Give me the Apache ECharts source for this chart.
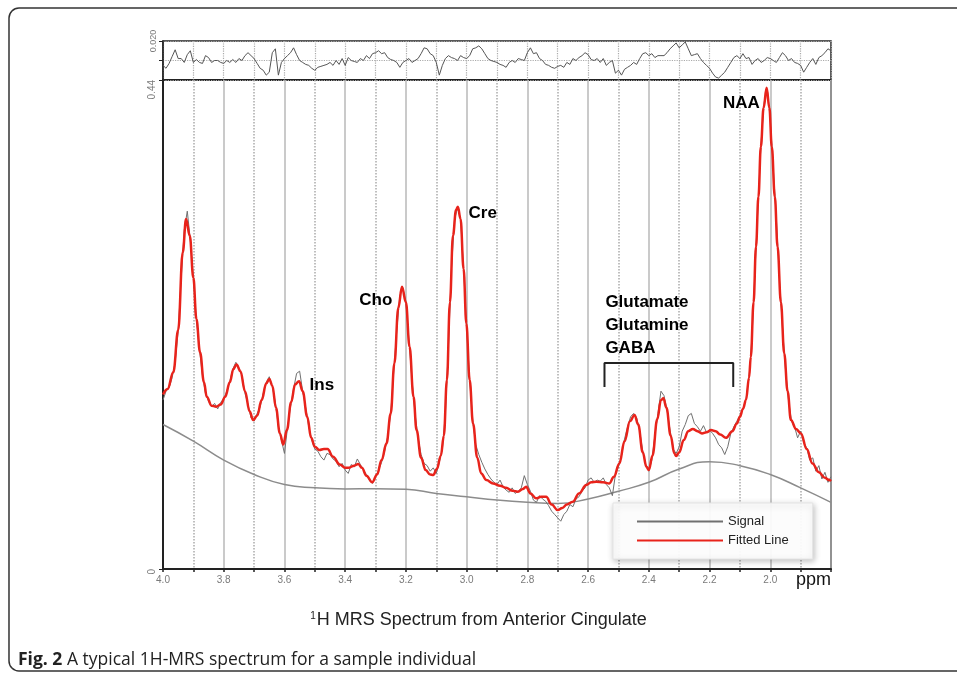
<!DOCTYPE html>
<html>
<head>
<meta charset="utf-8">
<script src="https://cdn.jsdelivr.net/npm/echarts/dist/echarts.min.js"></script>
<style>
html,body{margin:0;padding:0;background:#fff;}
#c{width:957px;height:676px;}
</style>
</head>
<body>
<div id="c"></div>
<script>
// ---- data ----
const ppmGrid = [4.00,3.99,3.98,3.97,3.96,3.95,3.94,3.93,3.92,3.91,
3.90,3.89,3.88,3.87,3.86,3.85,3.84,3.83,3.82,3.81,
3.80,3.79,3.78,3.77,3.76,3.75,3.74,3.73,3.72,3.71,
3.70,3.69,3.68,3.67,3.66,3.65,3.64,3.63,3.62,3.61,
3.60,3.59,3.58,3.57,3.56,3.55,3.54,3.53,3.52,3.51,
3.50,3.49,3.48,3.47,3.46,3.45,3.44,3.43,3.42,3.41,
3.40,3.39,3.38,3.37,3.36,3.35,3.34,3.33,3.32,3.31,
3.30,3.29,3.28,3.27,3.26,3.25,3.24,3.23,3.22,3.21,
3.20,3.19,3.18,3.17,3.16,3.15,3.14,3.13,3.12,3.11,
3.10,3.09,3.08,3.07,3.06,3.05,3.04,3.03,3.02,3.01,
3.00,2.99,2.98,2.97,2.96,2.95,2.94,2.93,2.92,2.91,
2.90,2.89,2.88,2.87,2.86,2.85,2.84,2.83,2.82,2.81,
2.80,2.79,2.78,2.77,2.76,2.75,2.74,2.73,2.72,2.71,
2.70,2.69,2.68,2.67,2.66,2.65,2.64,2.63,2.62,2.61,
2.60,2.59,2.58,2.57,2.56,2.55,2.54,2.53,2.52,2.51,
2.50,2.49,2.48,2.47,2.46,2.45,2.44,2.43,2.42,2.41,
2.40,2.39,2.38,2.37,2.36,2.35,2.34,2.33,2.32,2.31,
2.30,2.29,2.28,2.27,2.26,2.25,2.24,2.23,2.22,2.21,
2.20,2.19,2.18,2.17,2.16,2.15,2.14,2.13,2.12,2.11,
2.10,2.09,2.08,2.07,2.06,2.05,2.04,2.03,2.02,2.01,
2.00,1.99,1.98,1.97,1.96,1.95,1.94,1.93,1.92,1.91,
1.90,1.89,1.88,1.87,1.86,1.85,1.84,1.83,1.82,1.81,
1.80];

const signal = [0.152,0.160,0.163,0.172,0.186,0.214,0.262,0.305,0.322,0.296,
0.262,0.224,0.198,0.174,0.158,0.151,0.146,0.149,0.144,0.150,
0.153,0.160,0.169,0.180,0.186,0.181,0.174,0.158,0.148,0.136,
0.133,0.140,0.146,0.158,0.168,0.173,0.164,0.150,0.128,0.116,
0.104,0.127,0.146,0.162,0.176,0.178,0.160,0.145,0.128,0.116,
0.108,0.106,0.101,0.098,0.104,0.103,0.099,0.097,0.092,0.095,
0.089,0.086,0.094,0.092,0.099,0.094,0.089,0.085,0.080,0.077,
0.083,0.089,0.096,0.106,0.119,0.140,0.178,0.215,0.246,0.253,
0.240,0.206,0.170,0.140,0.118,0.103,0.095,0.093,0.088,0.091,
0.086,0.096,0.108,0.140,0.200,0.270,0.314,0.325,0.315,0.270,
0.216,0.170,0.134,0.112,0.103,0.096,0.090,0.085,0.081,0.078,
0.076,0.080,0.074,0.071,0.069,0.073,0.068,0.070,0.073,0.084,
0.076,0.070,0.062,0.060,0.066,0.063,0.061,0.057,0.052,0.049,
0.046,0.043,0.049,0.052,0.058,0.056,0.063,0.065,0.070,0.073,
0.080,0.082,0.078,0.080,0.079,0.082,0.076,0.073,0.066,0.085,
0.092,0.102,0.117,0.128,0.137,0.140,0.136,0.124,0.106,0.094,
0.088,0.098,0.120,0.140,0.160,0.156,0.143,0.125,0.108,0.104,
0.110,0.124,0.130,0.138,0.140,0.131,0.128,0.124,0.129,0.123,
0.125,0.122,0.118,0.112,0.109,0.103,0.110,0.122,0.128,0.133,
0.138,0.144,0.153,0.172,0.210,0.270,0.330,0.385,0.420,0.432,
0.405,0.360,0.315,0.262,0.218,0.180,0.152,0.133,0.128,0.118,
0.124,0.114,0.109,0.098,0.100,0.088,0.093,0.081,0.087,0.078,
0.083];

const residual = [-0.005,-0.008,-0.003,0.004,0.011,0.002,0.002,-0.002,0.006,0.010,
-0.002,0.001,-0.002,-0.003,0.005,0.003,-0.002,0,0,-0.002,
-0.003,0,-0.002,0.001,-0.002,0.002,0,0.005,0.008,0.005,
0.002,-0.003,-0.008,-0.010,-0.015,-0.012,0.008,0.012,-0.015,-0.002,
0.002,0.005,0.008,0.013,0.006,0,-0.002,-0.004,-0.005,-0.008,
-0.010,-0.007,-0.006,-0.005,-0.004,-0.002,-0.005,0,-0.004,0.002,
-0.005,0.003,0,-0.001,-0.002,0.002,0,0.005,0.002,0.007,
0.008,0.010,0.007,0.008,0.003,0.001,0,-0.002,-0.007,-0.002,
0,0.002,-0.002,0,0.002,0.007,0.013,0.012,0.007,0.005,
-0.002,-0.015,-0.005,0.002,0.005,0.003,0.002,0,0.005,0.003,
0.002,0.005,0.012,0.013,0.015,0.012,0.007,0.002,0,-0.001,
-0.002,-0.004,-0.005,-0.007,-0.002,0,-0.002,0.002,0.001,0,
0.008,0.013,0.007,0.008,0.002,0,-0.004,-0.005,-0.007,-0.008,
-0.006,-0.005,-0.007,-0.002,-0.004,0.002,0,0.003,0.005,0.008,
0.006,0.001,0,0.002,-0.002,0.002,-0.005,-0.002,0,-0.013,
-0.010,-0.015,-0.009,-0.007,-0.005,-0.002,-0.004,0.002,0.007,0.008,
0.005,0.007,0.003,0.005,0.005,0.005,0.008,0.012,0.015,0.018,
0.013,0.016,0.019,0.012,0.005,0.006,0.007,0.002,-0.002,-0.005,
-0.008,-0.013,-0.017,-0.018,-0.015,-0.012,-0.007,-0.002,0.003,0.005,
0.002,0.007,0.002,0.003,-0.004,0,0.002,-0.002,0,0.003,
0.002,0,-0.002,0.003,0.008,0.005,0,0.002,-0.002,-0.003,
-0.005,-0.012,-0.007,-0.002,0.002,-0.004,0.003,0.005,0.008,0.012,
0.010];

const fitPpm = [4.000,3.985,3.966,3.950,3.935,3.924,3.912,3.900,3.890,3.878,
3.865,3.856,3.840,3.825,3.810,3.795,3.780,3.768,3.758,3.745,
3.730,3.715,3.703,3.690,3.675,3.660,3.650,3.640,3.628,3.615,
3.604,3.592,3.578,3.565,3.552,3.540,3.525,3.512,3.500,3.485,
3.470,3.458,3.440,3.418,3.400,3.390,3.370,3.357,3.345,3.330,
3.311,3.295,3.280,3.264,3.250,3.238,3.225,3.213,3.200,3.188,
3.175,3.165,3.150,3.135,3.120,3.110,3.098,3.085,3.075,3.065,
3.055,3.045,3.035,3.029,3.020,3.010,3.001,2.990,2.979,2.965,
2.952,2.935,2.913,2.890,2.870,2.850,2.831,2.815,2.804,2.790,
2.771,2.755,2.738,2.720,2.700,2.685,2.670,2.650,2.630,2.606,
2.590,2.573,2.550,2.530,2.515,2.497,2.480,2.462,2.447,2.435,
2.420,2.408,2.400,2.388,2.372,2.360,2.352,2.342,2.328,2.316,
2.310,2.300,2.285,2.270,2.255,2.240,2.225,2.210,2.195,2.180,
2.165,2.146,2.125,2.110,2.100,2.090,2.080,2.070,2.064,2.055,
2.047,2.039,2.031,2.022,2.012,2.003,1.995,1.985,1.976,1.965,
1.954,1.943,1.932,1.915,1.899,1.880,1.861,1.840,1.820,1.806,
1.800];
const fitVal = [0.157,0.162,0.177,0.215,0.285,0.315,0.300,0.262,0.225,0.195,
0.168,0.155,0.147,0.146,0.148,0.155,0.168,0.180,0.184,0.178,
0.160,0.142,0.134,0.138,0.152,0.167,0.171,0.165,0.145,0.122,
0.112,0.125,0.150,0.166,0.169,0.160,0.137,0.118,0.110,0.107,
0.108,0.108,0.101,0.094,0.091,0.091,0.093,0.0945,0.091,0.084,
0.078,0.085,0.098,0.113,0.140,0.185,0.235,0.254,0.240,0.200,
0.155,0.125,0.100,0.089,0.085,0.0846,0.090,0.102,0.120,0.170,
0.240,0.300,0.323,0.326,0.315,0.270,0.221,0.170,0.131,0.100,
0.086,0.080,0.077,0.075,0.073,0.0705,0.0696,0.072,0.074,0.068,
0.0636,0.065,0.065,0.058,0.053,0.055,0.058,0.0606,0.068,0.0756,
0.078,0.0786,0.078,0.077,0.083,0.095,0.115,0.133,0.1386,0.130,
0.105,0.092,0.089,0.102,0.135,0.152,0.1536,0.145,0.120,0.104,
0.1017,0.105,0.116,0.124,0.126,0.124,0.122,0.123,0.125,0.124,
0.121,0.118,0.124,0.131,0.137,0.144,0.152,0.172,0.191,0.240,
0.290,0.335,0.380,0.415,0.433,0.415,0.380,0.335,0.290,0.240,
0.194,0.160,0.134,0.126,0.122,0.108,0.095,0.087,0.082,0.080,
0.079];

const basePpm = [4.0,3.9,3.8,3.7,3.6,3.5,3.4,3.3,3.2,3.1,3.0,2.9,2.8,2.7,2.6,2.5,2.4,2.3,2.2,2.1,2.0,1.9,1.8];
const baseVal = [0.130,0.115,0.098,0.085,0.076,0.073,0.072,0.0722,0.0717,0.068,0.065,0.062,0.060,0.059,0.063,0.070,0.078,0.090,0.0966,0.093,0.085,0.073,0.060];

// annotation texts and their anchor (ppm, amplitude)
const annText = ['NAA','Cre','Cho','Ins'];
const annPpm  = [2.095,2.947,3.299,3.477];
const annVal  = [0.4194,0.3204,0.2421,0.1656];
const groupText = 'Glutamate\nGlutamine\nGABA';
const groupAnchor = [2.543,0.2196];
const bracketPpm = [2.546,2.546,2.122,2.122];
const bracketVal = [0.1638,0.1854,0.1854,0.1638];

// ---- chart ----
const zip = (a,b) => a.map((x,i)=>[x,b[i]]);
const FONT = "'Liberation Sans', Arial, sans-serif";
const CAPFONT = "'Open Sans', sans-serif";
const chart = echarts.init(document.getElementById('c'), null, {renderer:'canvas'});

const xCommon = {type:'value', min:1.8, max:4.0, interval:0.2, inverse:true};

const staticGraphics = [
  {type:'rect', shape:{x:9, y:8, width:1000, height:663, r:10}, style:{fill:'none', stroke:'#333', lineWidth:1.5}, silent:true, z:-1},
  {type:'text', right:126, top:571, style:{text:'ppm', fontSize:18, fill:'#111', fontFamily:FONT}},
  {type:'text', left:'center', top:611, style:{
    text:'{s|1}{m|H MRS Spectrum from Anterior Cingulate}', fill:'#222', fontFamily:FONT,
    rich:{s:{fontSize:10, verticalAlign:'top', fontFamily:FONT, fill:'#222', padding:[0,1,0,0]}, m:{fontSize:18, fontFamily:FONT, fill:'#222'}}
  }},
  {type:'text', left:18, top:651, style:{
    text:'{b|Fig. 2} A typical 1H-MRS spectrum for a sample individual', fontSize:17.5, fill:'#222',
    fontFamily:CAPFONT,
    rich:{b:{fontWeight:'bold', fontSize:17.5, fill:'#222', fontFamily:CAPFONT}}
  }}
];

chart.setOption({
  animation:false,
  backgroundColor:'#fff',
  textStyle:{fontFamily:FONT},
  grid:[
    {left:163, top:41, width:668, height:39, show:true, borderColor:'#222', borderWidth:1.5, backgroundColor:'transparent'},
    {left:163, top:80, width:668, height:489, show:true, borderColor:'#222', borderWidth:2, backgroundColor:'transparent'}
  ],
  xAxis:[
    Object.assign({}, xCommon, {gridIndex:0,
      axisLine:{show:false}, axisTick:{show:false}, axisLabel:{show:false},
      splitLine:{show:true, lineStyle:{color:'#aaa', type:'dotted', width:1.2}},
      minorTick:{show:false, splitNumber:2},
      minorSplitLine:{show:true, lineStyle:{color:'#aaa', type:'dotted', width:1.2}}
    }),
    Object.assign({}, xCommon, {gridIndex:1,
      axisLine:{show:true, lineStyle:{color:'#222', width:2}},
      axisTick:{show:true, length:3, lineStyle:{color:'#222', width:1.5}},
      minorTick:{show:true, splitNumber:2, length:3, lineStyle:{color:'#222', width:1.5}},
      axisLabel:{color:'#7a7a7a', fontSize:10, margin:6, fontFamily:FONT,
        formatter:v => Math.abs(v-1.8)<1e-6 ? '' : v.toFixed(1)},
      splitLine:{show:true, lineStyle:{color:'#b9b9b9', width:1.5}},
      minorSplitLine:{show:true, lineStyle:{color:'#aaa', type:'dotted', width:1.5}}
    })
  ],
  yAxis:[
    {gridIndex:0, type:'value', min:-0.02, max:0.02, interval:0.02,
      axisLine:{show:true, lineStyle:{color:'#222', width:1.5}},
      axisTick:{show:true, length:4, lineStyle:{color:'#222'}},
      axisLabel:{rotate:90, color:'#7a7a7a', fontSize:9, margin:5, fontFamily:FONT,
        formatter:v => v>0.019 ? '0.020' : ''},
      splitLine:{show:true, lineStyle:{color:'#aaa', type:'dotted', width:1.2}}
    },
    {gridIndex:1, type:'value', min:0, max:0.44, interval:0.44,
      axisLine:{show:true, lineStyle:{color:'#222', width:2}},
      axisTick:{show:true, length:4, lineStyle:{color:'#222'}},
      axisLabel:{rotate:90, align:'right', color:'#7a7a7a', fontSize:10, margin:6, fontFamily:FONT,
        formatter:v => v===0 ? '0' : '0.44'},
      splitLine:{show:false}
    }
  ],
  legend:{
    data:[{name:'Signal', itemStyle:{opacity:0}}, {name:'Fitted Line', itemStyle:{opacity:0}}],
    orient:'vertical', left:613, top:503,
    itemWidth:86, itemHeight:14, itemGap:6,
    padding:[12,24,12,23],
    backgroundColor:'rgba(255,255,255,0.94)', borderColor:'#e4e4e4', borderWidth:1,
    shadowBlur:6, shadowColor:'rgba(0,0,0,0.25)', shadowOffsetX:1, shadowOffsetY:2,
    textStyle:{fontSize:13, color:'#222', fontFamily:FONT},
    selectedMode:false
  },
  series:[
    {type:'line', name:'Baseline', xAxisIndex:1, yAxisIndex:1, data:zip(basePpm, baseVal),
      smooth:true, symbol:'none', silent:true, lineStyle:{color:'#8c8c8c', width:1.5}, z:2},
    {type:'line', name:'Signal', xAxisIndex:1, yAxisIndex:1, data:zip(ppmGrid, signal),
      symbol:'none', silent:true, lineStyle:{color:'#707070', width:1}, itemStyle:{color:'#8a8a8a'}, z:3},
    {type:'line', name:'Fitted Line', xAxisIndex:1, yAxisIndex:1, data:zip(fitPpm, fitVal),
      smooth:0.4, smoothMonotone:'x', symbol:'none', silent:true,
      lineStyle:{color:'#e8231b', width:2.5}, itemStyle:{color:'#e8231b'}, z:4},
    {type:'line', name:'Residual', xAxisIndex:0, yAxisIndex:0, data:zip(ppmGrid, residual),
      symbol:'none', silent:true, lineStyle:{color:'#555', width:1}, z:3},
    {type:'line', name:'Bracket', xAxisIndex:1, yAxisIndex:1, data:zip(bracketPpm, bracketVal),
      symbol:'none', silent:true, lineStyle:{color:'#222', width:2}, z:5}
  ],
  graphic: staticGraphics
});

// peak labels placed through the chart's own coordinate conversion
const labelGraphics = annText.map((t,i) => {
  const p = chart.convertToPixel({xAxisIndex:1, yAxisIndex:1}, [annPpm[i], annVal[i]]);
  return {type:'text', x:p[0], y:p[1], z:10, style:{text:t, fill:'#000', fontSize:17, fontWeight:'bold',
    fontFamily:FONT, align:'center', verticalAlign:'middle'}};
});
const gp = chart.convertToPixel({xAxisIndex:1, yAxisIndex:1}, groupAnchor);
labelGraphics.push({type:'text', x:gp[0], y:gp[1], z:10, style:{text:groupText, fill:'#000', fontSize:17,
  fontWeight:'bold', lineHeight:23, fontFamily:FONT, align:'left', verticalAlign:'middle'}});

chart.setOption({graphic: staticGraphics.concat(labelGraphics)});
</script>
</body>
</html>
